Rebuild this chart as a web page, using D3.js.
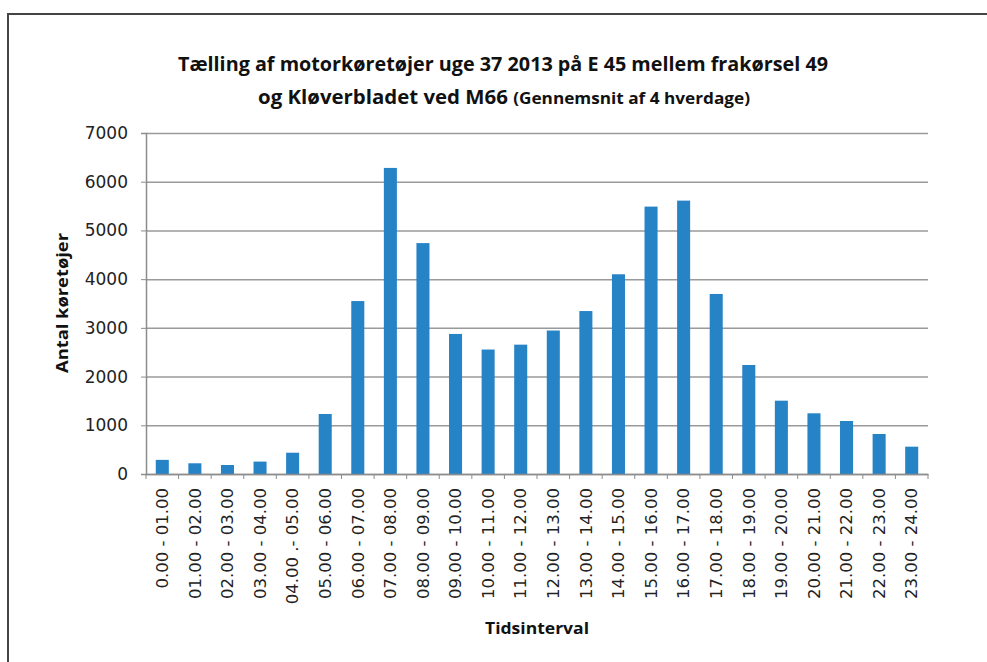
<!DOCTYPE html>
<html>
<head>
<meta charset="utf-8">
<script src="https://cdn.jsdelivr.net/npm/d3@7"></script>
<style>
  body { margin: 0; background: #fff; }
  #chart { width: 987px; height: 662px; }
</style>
</head>
<body>
<div id="chart"></div>
<script>
// -- data --
var intervals = ["0.00 - 01.00", "01.00 - 02.00", "02.00 - 03.00", "03.00 - 04.00",
  "04.00 .- 05.00", "05.00 - 06.00", "06.00 - 07.00", "07.00 - 08.00", "08.00 - 09.00",
  "09.00 - 10.00", "10.00 - 11.00", "11.00 - 12.00", "12.00 - 13.00", "13.00 - 14.00",
  "14.00 - 15.00", "15.00 - 16.00", "16.00 - 17.00", "17.00 - 18.00", "18.00 - 19.00",
  "19.00 - 20.00", "20.00 - 21.00", "21.00 - 22.00", "22.00 - 23.00", "23.00 - 24.00"];
var vehicles = [290, 220, 185, 255, 437, 1232, 3550, 6283, 4740, 2875, 2555, 2655,
  2945, 3345, 4100, 5489, 5612, 3696, 2238, 1505, 1246, 1088, 821, 561];
var y_ticks = [0, 1000, 2000, 3000, 4000, 5000, 6000, 7000];

var title_line1 = "Tælling af motorkøretøjer uge 37 2013 på E 45 mellem frakørsel 49";
var title_line2a = "og Kløverbladet ved M66 ";
var title_line2b = "(Gennemsnit af 4 hverdage)";

var visualize = function() {
  var W = 987, H = 662;
  var margin = { top: 133, right: 59, bottom: 188, left: 146 };
  var width = W - margin.left - margin.right,
      height = H - margin.top - margin.bottom;

  var root = d3.select("#chart").append("svg")
    .attr("width", W)
    .attr("height", H);

  // frame
  root.append("path")
    .attr("d", "M8," + H + " L8,14 L" + W + ",14")
    .attr("fill", "none")
    .attr("stroke", "#444")
    .attr("stroke-width", 2);

  // title
  var title = root.append("g")
    .attr("font-family", "'Open Sans', sans-serif")
    .attr("font-weight", "bold")
    .attr("fill", "#111")
    .attr("text-anchor", "middle");
  title.append("text")
    .attr("x", 503).attr("y", 71)
    .attr("font-size", 19)
    .attr("textLength", 650)
    .attr("lengthAdjust", "spacingAndGlyphs")
    .text(title_line1);
  var t2 = title.append("text")
    .attr("x", 504).attr("y", 104)
    .attr("textLength", 492)
    .attr("lengthAdjust", "spacingAndGlyphs");
  t2.append("tspan").attr("font-size", 19).text(title_line2a);
  t2.append("tspan").attr("font-size", 16).text(title_line2b);

  var svg = root.append("g")
    .attr("transform", "translate(" + margin.left + "," + margin.top + ")");

  // == scales ==
  var x = d3.scaleBand()
    .domain(intervals)
    .range([0, width])
    .paddingInner(0.6)
    .paddingOuter(0.3);

  var y = d3.scaleLinear()
    .domain([0, 7000])
    .range([height, 0]);

  // -- grid lines --
  var y_grid = d3.axisLeft(y)
    .tickValues(y_ticks)
    .tickSize(-width)
    .tickFormat("");
  var grid = svg.append("g").call(y_grid);
  grid.select(".domain").remove();
  grid.selectAll("line")
    .attr("stroke", "#9a9a9a")
    .attr("stroke-width", 1.5);

  // -- bars --
  svg.selectAll("rect.bar")
    .data(vehicles)
    .enter()
    .append("rect")
    .attr("class", "bar")
    .attr("x", function (d, i) { return x(intervals[i]); })
    .attr("y", function (d) { return y(d); })
    .attr("width", x.bandwidth())
    .attr("height", function (d) { return height - y(d); })
    .attr("fill", "#2683c6");

  // -- y axis --
  var y_axis = d3.axisLeft(y)
    .tickValues(y_ticks)
    .tickFormat(d3.format("d"))
    .tickSize(5)
    .tickPadding(13);
  var ya = svg.append("g").call(y_axis);
  ya.select(".domain").attr("stroke", "#8c8c8c").attr("stroke-width", 1.5);
  ya.selectAll("line").attr("stroke", "#8c8c8c");
  ya.selectAll("text")
    .attr("font-family", "'DejaVu Sans', sans-serif")
    .attr("font-size", 17)
    .attr("fill", "#222");

  // -- x axis --
  var x_axis = d3.axisBottom(x).tickSize(0).tickPadding(0);
  var xa = svg.append("g")
    .attr("transform", "translate(0," + height + ")")
    .call(x_axis);
  xa.select(".domain").attr("stroke", "#8c8c8c").attr("stroke-width", 1.5);
  xa.selectAll(".tick text")
    .attr("font-family", "'DejaVu Sans', sans-serif")
    .attr("font-size", 16.5)
    .attr("fill", "#222")
    .attr("text-anchor", "end")
    .attr("dy", "0.35em")
    .attr("transform", "translate(0,14) rotate(-90)")
    .attr("x", 0)
    .attr("y", 0);

  // boundary ticks between categories
  var step = x.step();
  var bounds = d3.range(intervals.length + 1).map(function (i) {
    return x(intervals[0]) - (step - x.bandwidth()) / 2 + i * step;
  });
  xa.selectAll("line.bound")
    .data(bounds)
    .enter()
    .append("line")
    .attr("class", "bound")
    .attr("x1", function (d) { return d; })
    .attr("x2", function (d) { return d; })
    .attr("y1", 0)
    .attr("y2", 5)
    .attr("stroke", "#8c8c8c");

  // axis titles
  root.append("text")
    .attr("transform", "translate(68,303) rotate(-90)")
    .attr("text-anchor", "middle")
    .attr("font-family", "'Open Sans', sans-serif")
    .attr("font-weight", "bold")
    .attr("font-size", 16)
    .attr("textLength", 140)
    .attr("lengthAdjust", "spacingAndGlyphs")
    .attr("fill", "#111")
    .text("Antal køretøjer");

  root.append("text")
    .attr("x", 537).attr("y", 634)
    .attr("text-anchor", "middle")
    .attr("font-family", "'Open Sans', sans-serif")
    .attr("font-weight", "bold")
    .attr("font-size", 16)
    .attr("textLength", 104)
    .attr("lengthAdjust", "spacingAndGlyphs")
    .attr("fill", "#111")
    .text("Tidsinterval");
};

visualize();
</script>
</body>
</html>
